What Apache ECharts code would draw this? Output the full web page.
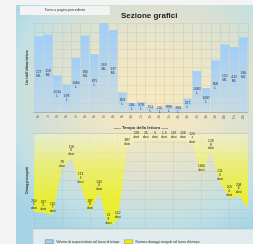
<!DOCTYPE html>
<html>
<head>
<meta charset="utf-8">
<script src="https://cdn.jsdelivr.net/npm/echarts@6/dist/echarts.min.js"></script>
<style>
  html, body { margin: 0; padding: 0; background: #f3f3f3; }
  #panel {
    position: absolute; left: 16px; top: 5px; width: 237px; height: 239px;
    background: radial-gradient(ellipse 75% 65% at 58% 38%, #f7e9c0 0%, #efe6c6 30%, #d8e0d2 60%, #c0dfe4 82%, #a6d4e4 100%);
  }
  #chart { position: absolute; left: 0; top: 0; width: 253px; height: 244px; }
</style>
</head>
<body>
<div id="panel"></div>
<div id="chart"></div>
<script>
// categorie (ore di lettura)
const barTimes = ['0h', '1h', '2h', '3h', '4h', '5h', '6h', '7h', '8h', '9h', '10h', '11h',
  '12h', '13h', '14h', '15h', '16h', '17h', '18h', '19h', '20h', '21h', '22h']
const lineTimes = ['0h', '1h', '2h', '3h', '4h', '5h', '6h', '7h', '8h', '9h', '10h', '11h',
  '12h', '13h', '14h', '15h', '16h', '17h', '18h', '19h', '20h', '21h', '22h', '23h']

// volume acqua (altezza barre) + etichette
const barValues = [85, 87, 41, 31, 61, 86, 65, 100, 92, 22, 10, 11, 6, 4, 7.5, 5, 15, 46, 27, 58, 76, 73, 84]
const barLabels = ['127\nML', '118\nML', '1014\nL', '478\nL', '1080\nL', '180\nML', '875\nL', '169\nML', '137\nML', '803\nL',
  '146\nL', '578\nL', '751\nL', '240\nL', '995\nL', '998\nL', '227\nL', '1083\nL', '1087\nL', '808\nL', '152\nML', '412\nML', '180\nML']

// numero dosaggi (asse invertito) + etichette
const lineValues = [83, 84, 86, 38, 26, 55, 83, 63, 98, 92, 15, 8, 8, 8, 8, 8, 8, 13, 43, 20, 52, 69, 66, 79]
const lineLabels = ['260\n5\ndosi', '267\n5\ndosi', '115\n7\ndosi', '78\ndosi', '118\n6\ndosi', '213\n5\ndosi', '187\n8\ndosi',
  '240\n6\ndosi', '21\n8\ndosi', '142\ndosi', '387\ndosi', '228\ndosi', '26\ndosi', '3\ndosi', '1.3\ndosi', '167\ndosi',
  '208\ndosi', '120\n7\ndosi', '1460\ndosi', '128\n8\ndosi', '211\n6\ndosi', '205\n6\ndosi', '208\n6\ndosi', '']

const nameVolume = 'Volume di acqua trattato nel lasso di tempo'
const nameDosi = 'Numero dosaggi eseguiti nel lasso di tempo'

const gridLine = { show: true, lineStyle: { color: 'rgba(140,165,165,0.28)', width: 0.6 } }
const font = 'Liberation Sans'

const option = {
  animation: false,
  textStyle: { fontFamily: font },
  title: {
    text: 'Sezione grafici',
    left: 116,
    top: 7,
    textStyle: { fontSize: 8, fontWeight: 'bold', color: '#222', fontFamily: font },
  },
  graphic: [
    // pulsante indietro
    {
      type: 'rect', shape: { x: 20, y: 6, width: 90, height: 9, r: 1.5 },
      style: { fill: '#f2f4f4' }, z: 1,
    },
    {
      type: 'text', x: 65, y: 10.5, z: 2,
      style: { text: 'Torna a pagina precedente', fontSize: 3.4, fill: '#333', textAlign: 'center', textVerticalAlign: 'middle', fontFamily: font },
    },
    // riquadro legenda
    {
      type: 'rect', shape: { x: 33, y: 229, width: 222, height: 16 },
      style: { fill: 'rgba(232,237,237,0.9)', stroke: '#c3c9c9', lineWidth: 0.6 }, z: 0,
    },
  ],
  legend: {
    left: 40,
    top: 234.5,
    itemWidth: 8,
    itemHeight: 4,
    itemGap: 5,
    textStyle: { fontSize: 3.3, color: '#333', padding: [0, 0, 0, -2] },
    data: [
      { name: nameVolume, icon: 'rect', itemStyle: { color: '#a9d1e6', borderColor: '#4a6a8a', borderWidth: 0.5 } },
      { name: nameDosi, icon: 'rect', itemStyle: { color: '#eeee00', borderColor: '#888', borderWidth: 0.5 } },
    ],
  },
  grid: [
    { left: 34, right: 5, top: 23, height: 89 },
    { left: 34, right: 5, top: 133, height: 95 },
  ],
  xAxis: [
    {
      type: 'category', gridIndex: 0, data: barTimes,
      axisLine: { lineStyle: { color: '#9aa', width: 0.8 } },
      axisTick: { show: false },
      axisLabel: { rotate: 90, fontSize: 2.6, color: '#555', margin: 3 },
      splitLine: gridLine,
      name: '----- Tempo della lettura -----',
      nameLocation: 'middle',
      nameGap: 14,
      nameTextStyle: { fontSize: 4.2, fontWeight: 'bold', color: '#333' },
    },
    {
      type: 'category', gridIndex: 1, data: lineTimes, boundaryGap: false, position: 'top',
      axisLine: { lineStyle: { color: '#8a9090', width: 0.8 } },
      axisTick: { show: false },
      axisLabel: { show: false },
      splitLine: gridLine,
    },
  ],
  yAxis: [
    {
      type: 'value', gridIndex: 0, min: 0, max: 100, interval: 10,
      axisLabel: { show: false },
      splitLine: gridLine,
      name: "Litri dall'ultima lettura",
      nameLocation: 'middle',
      nameGap: 5,
      nameTextStyle: { fontSize: 3.3, fontWeight: 'bold', color: '#333' },
    },
    {
      type: 'value', gridIndex: 1, min: 0, max: 100, interval: 10, inverse: true,
      axisLabel: { show: false },
      splitLine: gridLine,
      name: 'Dosaggi eseguiti',
      nameLocation: 'middle',
      nameGap: 5,
      nameTextStyle: { fontSize: 3.3, fontWeight: 'bold', color: '#333' },
    },
  ],
  series: [
    {
      name: nameVolume,
      type: 'bar',
      xAxisIndex: 0, yAxisIndex: 0,
      data: barValues,
      barCategoryGap: '8%',
      itemStyle: {
        color: new echarts.graphic.LinearGradient(0, 0, 0, 1, [
          { offset: 0, color: 'rgba(158,204,248,0.95)' },
          { offset: 1, color: 'rgba(178,212,245,0.6)' },
        ]),
      },
      label: {
        show: true,
        position: 'inside',
        fontSize: 3.3,
        lineHeight: 4,
        color: '#1c2a3a',
        formatter: p => barLabels[p.dataIndex],
      },
    },
    {
      name: nameDosi,
      type: 'line',
      xAxisIndex: 1, yAxisIndex: 1,
      data: lineValues,
      color: '#eeee00',
      symbol: 'circle',
      symbolSize: 0.1,
      showSymbol: true,
      lineStyle: { width: 0 },
      areaStyle: {
        opacity: 1,
        // gradiente in coordinate globali (pixel)
        color: new echarts.graphic.LinearGradient(0, 133, 0, 200, [
          { offset: 0, color: 'rgba(246,246,200,0.55)' },
          { offset: 0.45, color: 'rgba(240,240,100,0.8)' },
          { offset: 1, color: 'rgba(236,238,40,0.95)' },
        ], true),
      },
      label: {
        show: true,
        position: 'top',
        distance: 1.5,
        fontSize: 3.2,
        lineHeight: 3.8,
        color: '#222',
        opacity: 1,
        formatter: p => lineLabels[p.dataIndex],
      },
      labelLayout: { hideOverlap: false },
    },
  ],
}
echarts.init(document.getElementById('chart')).setOption(option)
</script>
</body>
</html>
